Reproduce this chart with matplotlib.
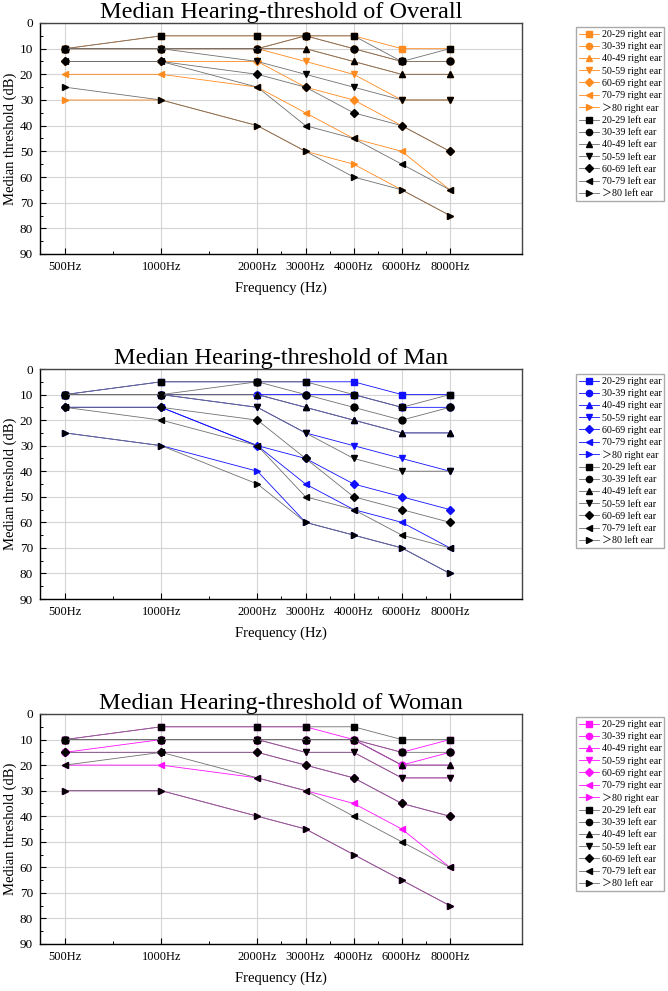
import matplotlib
matplotlib.use("Agg")
import matplotlib.pyplot as plt
from matplotlib.ticker import MultipleLocator, FixedLocator

plt.rcParams['font.family'] = ['Liberation Serif', 'Noto Sans CJK SC']

freq_labels = ["500Hz", "1000Hz", "2000Hz", "3000Hz", "4000Hz", "6000Hz", "8000Hz"]
freq_pos = [1, 2, 3, 3.5, 4, 4.5, 5]
age_groups = ["20-29", "30-39", "40-49", "50-59", "60-69", "70-79", "＞80"]
markers = ["s", "o", "^", "v", "D", "<", ">"]

# Overall
overall_right = [
    [10, 5, 5, 5, 5, 10, 10],
    [10, 10, 10, 5, 10, 15, 15],
    [10, 10, 10, 10, 15, 20, 20],
    [10, 10, 10, 15, 20, 30, 30],
    [15, 15, 15, 25, 30, 40, 50],
    [20, 20, 25, 35, 45, 50, 65],
    [30, 30, 40, 50, 55, 65, 75],
]
overall_left = [
    [10, 5, 5, 5, 5, 15, 10],
    [10, 10, 10, 5, 10, 15, 15],
    [10, 10, 10, 10, 15, 20, 20],
    [10, 10, 15, 20, 25, 30, 30],
    [15, 15, 20, 25, 35, 40, 50],
    [15, 15, 25, 40, 45, 55, 65],
    [25, 30, 40, 50, 60, 65, 75],
]
# Man
man_right = [
    [10, 5, 5, 5, 5, 10, 10],
    [10, 10, 10, 10, 10, 15, 15],
    [10, 10, 10, 15, 20, 25, 25],
    [10, 10, 15, 25, 30, 35, 40],
    [15, 15, 30, 35, 45, 50, 55],
    [15, 15, 30, 45, 55, 60, 70],
    [25, 30, 40, 60, 65, 70, 80],
]
man_left = [
    [10, 5, 5, 5, 10, 15, 10],
    [10, 10, 5, 10, 15, 20, 15],
    [10, 10, 10, 15, 20, 25, 25],
    [10, 10, 15, 25, 35, 40, 40],
    [15, 15, 20, 35, 50, 55, 60],
    [15, 20, 30, 50, 55, 65, 70],
    [25, 30, 45, 60, 65, 70, 80],
]
# Woman
woman_right = [
    [10, 5, 5, 5, 10, 15, 10],
    [15, 10, 10, 10, 10, 20, 15],
    [10, 10, 10, 10, 10, 20, 20],
    [10, 10, 10, 15, 15, 25, 25],
    [15, 15, 15, 20, 25, 35, 40],
    [20, 20, 25, 30, 35, 45, 60],
    [30, 30, 40, 45, 55, 65, 75],
]
woman_left = [
    [10, 5, 5, 5, 5, 10, 10],
    [10, 10, 10, 10, 10, 15, 15],
    [10, 10, 10, 10, 10, 20, 20],
    [10, 10, 10, 15, 15, 25, 25],
    [15, 15, 15, 20, 25, 35, 40],
    [20, 15, 25, 30, 40, 50, 60],
    [30, 30, 40, 45, 55, 65, 75],
]

panels = [
    ("Median Hearing-threshold of Overall", overall_right, overall_left, "#FF8A1E"),
    ("Median Hearing-threshold of Man", man_right, man_left, "#1010FF"),
    ("Median Hearing-threshold of Woman", woman_right, woman_left, "#FF10FF"),
]

W, H = 668, 991
fig = plt.figure(figsize=(W / 100, H / 100), dpi=100)

axes_px = [(23, 254), (369, 599), (714, 944)]
legend_top = [27, 374, 717]

for (title, right, left, col), (top, bot), ltop in zip(panels, axes_px, legend_top):
    ax = fig.add_axes([40 / W, 1 - bot / H, (522 - 40) / W, (bot - top) / H])
    handles = []
    for i, g in enumerate(age_groups):
        h, = ax.plot(freq_pos, right[i], color=col, lw=0.6, marker=markers[i],
                     markersize=5 if markers[i] != "D" else 4.2,
                     markerfacecolor=col, markeredgecolor=col,
                     label=f"{g} right ear", zorder=3)
        handles.append(h)
    for i, g in enumerate(age_groups):
        h, = ax.plot(freq_pos, left[i], color="#707070", lw=0.6, marker=markers[i],
                     markersize=5 if markers[i] != "D" else 4.2,
                     markerfacecolor="black", markeredgecolor="black",
                     label=f"{g} left ear", zorder=4)
        handles.append(h)

    ax.set_xlim(0.74, 5.75)
    ax.set_ylim(90, 0)
    ax.xaxis.set_major_locator(FixedLocator(freq_pos))
    ax.set_xticklabels(freq_labels, fontsize=9)
    ax.xaxis.set_minor_locator(FixedLocator([1.5, 2.5, 3.25, 3.75, 4.25, 4.75]))
    ax.yaxis.set_major_locator(MultipleLocator(10))
    ax.yaxis.set_minor_locator(MultipleLocator(5))
    ax.tick_params(axis="both", which="major", direction="in", length=4, width=0.8,
                   labelsize=9.5, pad=5)
    ax.tick_params(axis="x", labelsize=9)
    ax.tick_params(axis="both", which="minor", direction="in", length=2.5, width=0.7)
    ax.grid(True, which="major", color="#d4d4d4", lw=0.8, zorder=0)
    ax.set_axisbelow(True)
    for s in ["left", "bottom"]:
        ax.spines[s].set_color("black")
        ax.spines[s].set_linewidth(1.0)
    for s in ["top", "right"]:
        ax.spines[s].set_color("#444444")
        ax.spines[s].set_linewidth(1.0)
    ax.set_title(title, fontsize=17.5, pad=2)
    ax.set_xlabel("Frequency (Hz)", fontsize=10.5, labelpad=6)
    ax.set_ylabel("Median threshold (dB)", fontsize=10.5, labelpad=2)

    fig.legend(handles=handles, loc="upper left",
               bbox_to_anchor=(576 / W, 1 - ltop / H),
               fontsize=7.2, frameon=True, fancybox=False, edgecolor="#aaaaaa",
               framealpha=1, labelspacing=0.32, handlelength=2.0,
               handletextpad=0.25, borderpad=0.3, borderaxespad=0,
               markerscale=0.9)

fig.savefig("out.png", dpi=100)
